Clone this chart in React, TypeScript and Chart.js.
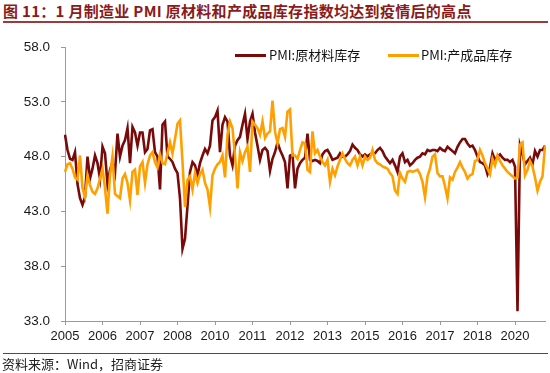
import React, { useEffect, useRef } from "react";
import { Chart, registerables } from "chart.js";

Chart.register(...registerables);

// Monthly categories: 2005-01 .. 2021-01
const startYear = 2005;
const monthCount = 193;
const xLabels: string[] = Array.from(
  { length: monthCount },
  (_, i) => `${startYear + Math.floor(i / 12)}-${String((i % 12) + 1).padStart(2, "0")}`
);
const labelStep = 15;

const yMin = 33;
const yMax = 58;
const yStep = 5;

const seriesNames = ["PMI:原材料库存", "PMI:产成品库存"];

// PMI: 原材料库存 (raw material inventory)
const rawMaterialInventory: number[] = [
  50.0, 48.6, 47.8, 47.7, 48.4, 45.5, 44.2, 43.6, 44.3, 48.0, 46.0, 46.9, // 2005
  48.1, 47.4, 46.0, 48.9, 48.3, 45.5, 46.8, 47.5, 46.5, 50.1, 48.0, 49.0, // 2006
  49.5, 50.6, 47.4, 50.7, 50.2, 49.0, 50.2, 50.2, 48.4, 48.7, 50.4, 50.5, // 2007
  48.4, 48.0, 45.0, 50.9, 51.2, 48.0, 47.8, 47.5, 46.9, 46.5, 44.2, 39.6, // 2008
  40.5, 43.5, 46.6, 47.5, 47.2, 46.3, 47.4, 48.1, 48.7, 48.3, 49.0, 51.3, // 2009
  51.6, 52.2, 48.4, 50.9, 51.6, 51.2, 48.1, 47.2, 49.0, 49.5, 49.8, 50.9, // 2010
  51.9, 49.6, 51.2, 51.9, 50.2, 49.0, 47.7, 48.6, 48.8, 48.5, 46.7, 47.8, // 2011
  48.4, 49.3, 48.6, 48.1, 47.5, 45.1, 48.1, 48.2, 45.1, 46.9, 47.4, 47.7, // 2012
  47.9, 50.1, 47.7, 47.6, 47.7, 47.6, 47.4, 48.2, 48.5, 48.6, 48.2, 47.7, // 2013
  47.8, 47.9, 48.3, 48.0, 48.0, 48.2, 48.5, 49.1, 48.8, 48.6, 48.2, 48.0, // 2014
  48.2, 48.0, 48.2, 48.3, 48.3, 48.6, 48.8, 48.5, 48.0, 47.7, 47.4, 47.7, // 2015
  47.2, 46.6, 48.0, 48.3, 47.5, 47.7, 47.2, 47.4, 47.7, 47.9, 48.0, 48.3, // 2016
  48.2, 48.6, 48.5, 48.6, 48.6, 48.5, 48.8, 48.6, 48.5, 48.9, 48.7, 48.5, // 2017
  48.3, 48.9, 49.3, 49.6, 49.6, 49.2, 48.9, 49.0, 48.6, 48.0, 47.5, 47.4, // 2018
  47.2, 46.4, 47.0, 48.3, 47.7, 48.0, 48.2, 47.9, 47.7, 47.7, 47.5, 47.7, // 2019
  47.1, 33.9, 49.0, 48.2, 47.3, 47.6, 47.9, 47.3, 48.5, 48.0, 48.6, 48.6, // 2020
  49.0, // 2021-01
];

// PMI: 产成品库存 (finished goods inventory)
const finishedGoodsInventory: number[] = [
  46.6, 47.3, 47.4, 46.9, 46.1, 45.9, 48.1, 45.1, 44.3, 46.3, 45.4, 44.8, // 2005
  44.6, 45.1, 46.0, 46.9, 45.1, 42.8, 46.3, 48.0, 44.6, 44.4, 44.2, 46.0, // 2006
  46.4, 45.6, 44.0, 46.6, 46.8, 44.5, 47.1, 47.5, 45.6, 47.3, 48.1, 48.4, // 2007
  47.5, 47.0, 48.2, 47.4, 47.3, 48.3, 49.3, 48.3, 49.6, 51.0, 51.3, 47.5, // 2008
  43.4, 45.9, 46.2, 45.0, 46.5, 45.6, 46.4, 46.8, 45.6, 45.0, 43.4, 46.3, // 2009
  46.9, 47.3, 47.5, 48.1, 46.1, 50.0, 51.2, 50.6, 48.1, 45.1, 48.4, 47.6, // 2010
  48.4, 48.9, 46.6, 51.2, 50.9, 50.6, 50.0, 51.2, 49.7, 50.1, 50.3, 53.1, // 2011
  50.3, 49.2, 50.5, 50.6, 49.8, 52.1, 52.3, 48.1, 48.1, 47.8, 48.6, 49.3, // 2012
  49.2, 46.8, 46.6, 50.3, 48.3, 48.6, 48.0, 47.5, 47.2, 47.7, 45.7, 46.9, // 2013
  46.3, 47.1, 47.7, 48.3, 47.8, 47.4, 47.2, 47.7, 48.0, 47.2, 48.0, 47.2, // 2014
  48.0, 47.7, 47.9, 48.6, 47.7, 47.4, 47.3, 47.1, 47.0, 46.9, 46.5, 46.2, // 2015
  44.9, 44.6, 46.5, 46.0, 45.7, 46.6, 46.7, 46.6, 46.7, 46.8, 46.4, 45.7, // 2016
  44.3, 46.2, 46.9, 48.0, 48.2, 46.5, 46.2, 46.2, 45.3, 44.2, 46.1, 45.9, // 2017
  46.6, 47.0, 47.5, 47.0, 46.6, 46.0, 46.3, 46.4, 47.6, 47.7, 48.6, 48.1, // 2018
  47.4, 46.9, 46.4, 47.8, 47.2, 48.1, 47.6, 47.2, 46.9, 46.6, 46.4, 46.2, // 2019
  46.0, 46.1, 49.1, 49.3, 46.3, 46.8, 47.6, 47.1, 46.1, 44.9, 45.7, 46.2, // 2020
  49.0, // 2021-01
];

const RED = "#7A0A0A";
const ORANGE = "#FFA000";
const AXIS = "#9A9A9A";
const CJK = '"Noto Sans CJK SC", "Liberation Sans", Arial, sans-serif';
const LATIN = '"Liberation Sans", Arial, "Noto Sans CJK SC", sans-serif';

export default function App() {
  const canvasRef = useRef<HTMLCanvasElement | null>(null);

  useEffect(() => {
    if (!canvasRef.current) return;
    const chart = new Chart(canvasRef.current, {
      type: "line",
      data: {
        labels: xLabels,
        datasets: [
          {
            label: seriesNames[0],
            data: rawMaterialInventory,
            borderColor: RED,
            backgroundColor: RED,
            borderWidth: 2.6,
            pointRadius: 0,
            tension: 0,
            order: 2,
          },
          {
            label: seriesNames[1],
            data: finishedGoodsInventory,
            borderColor: ORANGE,
            backgroundColor: ORANGE,
            borderWidth: 2.6,
            pointRadius: 0,
            tension: 0,
            order: 1,
          },
        ],
      },
      options: {
        responsive: false,
        animation: false,
        events: [],
        layout: { padding: { top: 47, right: 5, left: 0, bottom: 0 } },
        plugins: {
          legend: { display: false },
          tooltip: { enabled: false },
          title: { display: false },
        },
        scales: {
          x: {
            type: "category",
            offset: false,
            grid: {
              display: true,
              drawOnChartArea: false,
              drawTicks: true,
              tickLength: 4,
              color: AXIS,
            },
            border: { display: true, color: AXIS, width: 1 },
            ticks: {
              autoSkip: false,
              maxRotation: 0,
              minRotation: 0,
              padding: 4,
              color: "#1a1a1a",
              font: { family: LATIN, size: 13 },
              callback: (v: any) => xLabels[Number(v)].slice(0, 4),
            },
            afterBuildTicks: (s: any) => {
              s.ticks = s.ticks.filter((t: any) => t.value % labelStep === 0);
            },
            afterFit: (s: any) => {
              s.height = 52;
            },
          },
          y: {
            type: "linear",
            min: yMin,
            max: yMax,
            grid: {
              display: true,
              drawOnChartArea: false,
              drawTicks: true,
              tickLength: 4,
              color: AXIS,
            },
            border: { display: true, color: AXIS, width: 1 },
            ticks: {
              stepSize: yStep,
              padding: 11,
              color: "#1a1a1a",
              font: { family: LATIN, size: 13.5 },
              callback: (v: any) => Number(v).toFixed(1),
            },
            afterFit: (s: any) => {
              s.width = 65;
            },
          },
        },
      },
    });
    return () => chart.destroy();
  }, []);

  return (
    <div
      style={{
        position: "fixed",
        left: 0,
        top: 0,
        width: 550,
        height: 373,
        background: "#fff",
        overflow: "hidden",
      }}
    >
      <div
        style={{
          position: "absolute",
          left: 3,
          top: 1,
          whiteSpace: "nowrap",
          fontFamily: CJK,
          fontSize: 15,
          letterSpacing: "0.3px",
          fontWeight: 700,
          color: "#8B1A1A",
          lineHeight: "19px",
        }}
      >
        图 11：1 月制造业 PMI 原材料和产成品库存指数均达到疫情后的高点
      </div>
      <div
        style={{
          position: "absolute",
          left: 3,
          top: 21,
          width: 545,
          height: 2,
          background: "#9E3A3A",
        }}
      />
      <canvas
        ref={canvasRef}
        width={550}
        height={373}
        style={{ position: "absolute", left: 0, top: 0, width: 550, height: 373 }}
      />
      {/* legend */}
      <div style={{ position: "absolute", left: 235, top: 54, width: 31, height: 3, background: RED }} />
      <div
        style={{
          position: "absolute",
          left: 269,
          top: 47,
          whiteSpace: "nowrap",
          fontFamily: CJK,
          fontSize: 13,
          color: "#111",
          lineHeight: "16px",
        }}
      >
        {seriesNames[0]}
      </div>
      <div style={{ position: "absolute", left: 388, top: 54, width: 31, height: 3, background: ORANGE }} />
      <div
        style={{
          position: "absolute",
          left: 421,
          top: 47,
          whiteSpace: "nowrap",
          fontFamily: CJK,
          fontSize: 13,
          color: "#111",
          lineHeight: "16px",
        }}
      >
        {seriesNames[1]}
      </div>
      {/* footer */}
      <div
        style={{
          position: "absolute",
          left: 3,
          top: 353,
          width: 545,
          height: 1,
          background: "#A02828",
        }}
      />
      <div
        style={{
          position: "absolute",
          left: 2,
          top: 356,
          whiteSpace: "nowrap",
          fontFamily: CJK,
          fontSize: 13,
          color: "#222",
          lineHeight: "16px",
        }}
      >
        资料来源：Wind，招商证券
      </div>
    </div>
  );
}
